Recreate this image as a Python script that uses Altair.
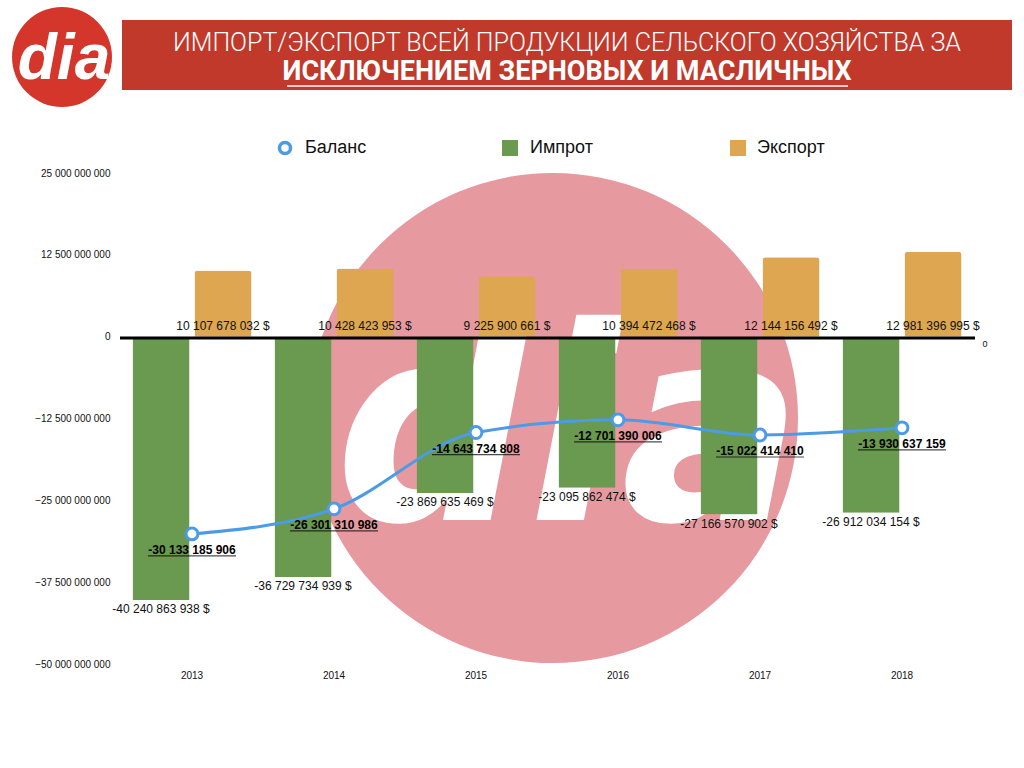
import altair as alt
import pandas as pd

years = ["2013", "2014", "2015", "2016", "2017", "2018"]
export_vals = [10107678032, 10428423953, 9225900661, 10394472468, 12144156492, 12981396995]
import_vals = [-40240863938, -36729734939, -23869635469, -23095862474, -27166570902, -26912034154]
balance_vals = [-30133185906, -26301310986, -14643734808, -12701390006, -15022414410, -13930637159]
series_names = ["Импрот", "Экспорт"]
y_ticks = [25e9, 12.5e9, 0, -12.5e9, -25e9, -37.5e9, -50e9]

title_line1 = "ИМПОРТ/ЭКСПОРТ ВСЕЙ ПРОДУКЦИИ СЕЛЬСКОГО ХОЗЯЙСТВА ЗА"
title_line2 = "ИСКЛЮЧЕНИЕМ ЗЕРНОВЫХ И МАСЛИЧНЫХ"


def fmt(v):
    return f"{v:,}".replace(",", " ")


bars_df = pd.DataFrame({
    "year": years * 2,
    "series": [series_names[0]] * 6 + [series_names[1]] * 6,
    "value": import_vals + export_vals,
})
bars_df["label"] = [fmt(v) + " $" for v in bars_df["value"]]
bal_df = pd.DataFrame({"year": years, "value": balance_vals,
                       "label": [fmt(v) for v in balance_vals]})

W, H = 852, 491
FONT = "Liberation Sans"
GREEN = "#6a9950"
ORANGE = "#dea650"
BLUE = "#4c9be6"
PINK = "#e69aa0"
RED = "#c0392b"

one = alt.Data(values=[{"a": 1}])

x_scale = alt.Scale(domain=years, paddingInner=0, paddingOuter=0)
x_axis = alt.Axis(title=None, labelAngle=0, domain=False, ticks=False,
                  labelPadding=6, labelFontSize=10, labelColor="#111", labelFont=FONT)
x_enc = alt.X("year:N", scale=x_scale, axis=x_axis)

y_scale = alt.Scale(domain=[-50e9, 25e9], nice=False, zero=False)
y_axis = alt.Axis(title=None, values=y_ticks, domain=False, ticks=False, grid=False,
                  labelPadding=11, labelFontSize=10, labelColor="#111", labelFont=FONT,
                  labelExpr="replace(replace(replace(format(datum.value, ',.0f'), ',', ' '), ',', ' '), ',', ' ')")
y_enc = alt.Y("value:Q", scale=y_scale, axis=y_axis)

xoff = alt.XOffset("series:N", scale=alt.Scale(domain=series_names, paddingInner=0.0806,
                                               paddingOuter=0.1855))
color = alt.Color("series:N", scale=alt.Scale(domain=series_names, range=[GREEN, ORANGE]),
                  legend=None)

# decorations
watermark = alt.Chart(one).mark_circle(size=240100, color=PINK, opacity=1).encode(
    x=alt.value(432), y=alt.value(245))
watermark_text = alt.Chart(one).mark_text(text="dia", font="DejaVu Sans", fontSize=270,
                                          fontWeight="bold", fontStyle="italic", color="white",
                                          align="center", baseline="alphabetic").encode(
    x=alt.value(448), y=alt.value(347))
logo = alt.Chart(one).mark_circle(size=10000, color="#d4362c", opacity=1).encode(
    x=alt.value(-59), y=alt.value(-116))
logo_text = alt.Chart(one).mark_text(text="dia", font=FONT, fontSize=64, fontWeight="bold",
                                     fontStyle="italic", color="white", align="center",
                                     baseline="alphabetic").encode(
    x=alt.value(-57), y=alt.value(-94))
banner = alt.Chart(one).mark_rect(color=RED).encode(
    x=alt.value(1), x2=alt.value(891), y=alt.value(-153), y2=alt.value(-83))
t1 = alt.Chart(one).mark_text(text=title_line1, font="Roboto", fontSize=25, fontWeight=300,
                              color="white", align="center", baseline="middle").encode(
    x=alt.value(446), y=alt.value(-130))
t2 = alt.Chart(one).mark_text(text=title_line2, font="Roboto", fontSize=27, fontWeight="bold",
                              color="white", align="center", baseline="middle").encode(
    x=alt.value(446), y=alt.value(-101))
t2_line = alt.Chart(one).mark_rule(color="white", strokeWidth=1.5).encode(
    x=alt.value(166), x2=alt.value(727), y=alt.value(-87))

# legend
leg_circle = alt.Chart(one).mark_point(shape="circle", filled=False, size=121, strokeWidth=3.5,
                                       color=BLUE, opacity=1).encode(x=alt.value(164), y=alt.value(-25))
leg_green = alt.Chart(one).mark_square(size=256, color=GREEN, opacity=1).encode(
    x=alt.value(389), y=alt.value(-25))
leg_orange = alt.Chart(one).mark_square(size=256, color=ORANGE, opacity=1).encode(
    x=alt.value(617), y=alt.value(-25))
leg_t1 = alt.Chart(one).mark_text(text="Баланс", font=FONT, fontSize=18, color="#111",
                                  align="left", baseline="middle").encode(
    x=alt.value(184), y=alt.value(-25))
leg_t2 = alt.Chart(one).mark_text(text="Импрот", font=FONT, fontSize=18, color="#111",
                                  align="left", baseline="middle").encode(
    x=alt.value(409), y=alt.value(-25))
leg_t3 = alt.Chart(one).mark_text(text="Экспорт", font=FONT, fontSize=18, color="#111",
                                  align="left", baseline="middle").encode(
    x=alt.value(636), y=alt.value(-25))

# data layers
bars = alt.Chart(bars_df).mark_bar(cornerRadiusEnd=3).encode(
    x=x_enc, y=y_enc, xOffset=xoff, color=color)

exp_labels = alt.Chart(bars_df).transform_filter(
    alt.datum.series == series_names[1]).transform_calculate(zero="0").mark_text(
    font=FONT, fontSize=12, color="#111", baseline="middle", dy=-11).encode(
    x=x_enc, xOffset=xoff, y=alt.Y("zero:Q", scale=y_scale, axis=y_axis), text="label:N")

imp_labels = alt.Chart(bars_df).transform_filter(
    alt.datum.series == series_names[0]).mark_text(
    font=FONT, fontSize=12, color="#111", baseline="middle", dy=9).encode(
    x=x_enc, xOffset=xoff, y=y_enc, text="label:N")

zero_rule = alt.Chart(one).mark_rule(color="black", strokeWidth=3).encode(
    x=alt.value(-1), x2=alt.value(854), y=alt.value(165))
zero_label = alt.Chart(one).mark_text(text="0", font=FONT, fontSize=9, color="#111",
                                      align="center", baseline="middle").encode(
    x=alt.value(864), y=alt.value(171))

bal_line = alt.Chart(bal_df).mark_line(color=BLUE, strokeWidth=3, interpolate="monotone").encode(
    x=x_enc, y=y_enc)
bal_points = alt.Chart(bal_df).mark_point(shape="circle", filled=True, fill="white", stroke=BLUE,
                                          strokeWidth=3, size=140, opacity=1).encode(
    x=x_enc, y=y_enc)
bal_labels = alt.Chart(bal_df).mark_text(font=FONT, fontSize=12, fontWeight="bold", color="#000",
                                         baseline="middle", dy=16).encode(
    x=x_enc, y=y_enc, text="label:N")
bal_underline = alt.Chart(bal_df).mark_tick(color="#000", thickness=1.2, size=88, yOffset=22,
                                            orient="horizontal").encode(
    x=x_enc, y=y_enc)

chart = alt.layer(
    watermark, watermark_text, logo, logo_text, banner, t1, t2, t2_line,
    leg_circle, leg_green, leg_orange, leg_t1, leg_t2, leg_t3,
    bars, zero_rule, zero_label, exp_labels, imp_labels,
    bal_line, bal_points, bal_underline, bal_labels,
).properties(
    width=W, height=H,
    padding={"left": 121, "top": 173, "right": 51, "bottom": 104},
    autosize=alt.AutoSizeParams(type="none"),
    background="white",
).configure(font=FONT).configure_view(stroke="transparent", strokeWidth=0, clip=False)

chart.save("out.html", embed_options={"renderer": "svg", "actions": False})
